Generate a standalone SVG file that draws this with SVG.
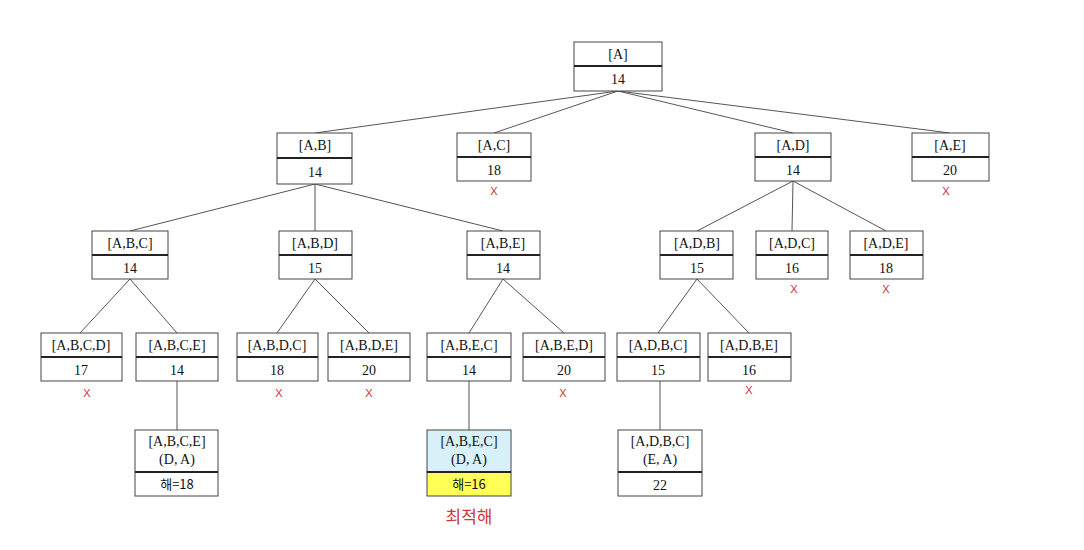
<svg xmlns="http://www.w3.org/2000/svg" width="1084" height="550" viewBox="0 0 1084 550">
<style>
.box{fill:#fff;stroke:#444;stroke-width:1}
.div{stroke:#222;stroke-width:2}
.t{font-family:"Liberation Serif","Noto Sans CJK KR",serif;font-size:14px;fill:#111;text-anchor:middle}
.k{font-family:"Noto Sans CJK KR","Liberation Serif",sans-serif;font-size:13px;fill:#111;text-anchor:middle}
.x{font-family:"Liberation Sans",sans-serif;font-size:11px;fill:#d03030;text-anchor:middle}
.e{stroke:#555;stroke-width:1;fill:none}
</style>
<rect width="1084" height="550" fill="#fff"/>
<g id="connectors">
<line class="e" x1="618" y1="91" x2="315" y2="133"/>
<line class="e" x1="618" y1="91" x2="494" y2="133"/>
<line class="e" x1="618" y1="91" x2="793" y2="133"/>
<line class="e" x1="618" y1="91" x2="950" y2="133"/>
<line class="e" x1="315" y1="184" x2="130" y2="231"/>
<line class="e" x1="315" y1="184" x2="315" y2="231"/>
<line class="e" x1="315" y1="184" x2="503" y2="231"/>
<line class="e" x1="793" y1="181" x2="697" y2="231"/>
<line class="e" x1="793" y1="181" x2="792" y2="231"/>
<line class="e" x1="793" y1="181" x2="886" y2="231"/>
<line class="e" x1="130" y1="279" x2="80" y2="333"/>
<line class="e" x1="130" y1="279" x2="177" y2="333"/>
<line class="e" x1="315" y1="279" x2="277" y2="333"/>
<line class="e" x1="315" y1="279" x2="369" y2="333"/>
<line class="e" x1="503" y1="279" x2="469" y2="333"/>
<line class="e" x1="503" y1="279" x2="564" y2="333"/>
<line class="e" x1="697" y1="279" x2="658" y2="333"/>
<line class="e" x1="697" y1="279" x2="749" y2="333"/>
<line class="e" x1="177" y1="381" x2="177" y2="430"/>
<line class="e" x1="469" y1="381" x2="469" y2="430"/>
<line class="e" x1="660" y1="381" x2="660" y2="430"/>
</g>
<g id="n-A"><rect class="box" x="574" y="42" width="88" height="49"/><line class="div" x1="574" y1="66" x2="662" y2="66"/><text class="t" x="618" y="59">[A]</text><text class="t" x="618" y="84">14</text></g>
<g id="n-AB"><rect class="box" x="277" y="133" width="75" height="51"/><line class="div" x1="277" y1="158" x2="352" y2="158"/><text class="t" x="315" y="150">[A,B]</text><text class="t" x="315" y="177">14</text></g>
<g id="n-AC"><rect class="box" x="457" y="133" width="74" height="48"/><line class="div" x1="457" y1="157" x2="531" y2="157"/><text class="t" x="494" y="150">[A,C]</text><text class="t" x="494" y="175">18</text><text class="x" x="494" y="195">X</text></g>
<g id="n-AD"><rect class="box" x="755" y="133" width="76" height="48"/><line class="div" x1="755" y1="157" x2="831" y2="157"/><text class="t" x="793" y="150">[A,D]</text><text class="t" x="793" y="175">14</text></g>
<g id="n-AE"><rect class="box" x="912" y="133" width="77" height="48"/><line class="div" x1="912" y1="157" x2="989" y2="157"/><text class="t" x="950" y="150">[A,E]</text><text class="t" x="950" y="175">20</text><text class="x" x="946" y="195">X</text></g>
<g id="n-ABC"><rect class="box" x="92" y="231" width="76" height="48"/><line class="div" x1="92" y1="255" x2="168" y2="255"/><text class="t" x="130" y="248">[A,B,C]</text><text class="t" x="130" y="273">14</text></g>
<g id="n-ABD"><rect class="box" x="279" y="231" width="73" height="48"/><line class="div" x1="279" y1="255" x2="352" y2="255"/><text class="t" x="315" y="248">[A,B,D]</text><text class="t" x="315" y="273">15</text></g>
<g id="n-ABE"><rect class="box" x="467" y="231" width="73" height="48"/><line class="div" x1="467" y1="255" x2="540" y2="255"/><text class="t" x="503" y="248">[A,B,E]</text><text class="t" x="503" y="273">14</text></g>
<g id="n-ADB"><rect class="box" x="660" y="231" width="73" height="48"/><line class="div" x1="660" y1="255" x2="733" y2="255"/><text class="t" x="697" y="248">[A,D,B]</text><text class="t" x="697" y="273">15</text></g>
<g id="n-ADC"><rect class="box" x="756" y="231" width="72" height="48"/><line class="div" x1="756" y1="255" x2="828" y2="255"/><text class="t" x="792" y="248">[A,D,C]</text><text class="t" x="792" y="273">16</text><text class="x" x="794" y="293">X</text></g>
<g id="n-ADE"><rect class="box" x="850" y="231" width="73" height="48"/><line class="div" x1="850" y1="255" x2="923" y2="255"/><text class="t" x="886" y="248">[A,D,E]</text><text class="t" x="886" y="273">18</text><text class="x" x="886" y="293">X</text></g>
<g id="n-ABCD"><rect class="box" x="41" y="333" width="81" height="48"/><line class="div" x1="41" y1="357" x2="122" y2="357"/><text class="t" x="81" y="350">[A,B,C,D]</text><text class="t" x="81" y="375">17</text><text class="x" x="87" y="397">X</text></g>
<g id="n-ABCE"><rect class="box" x="136" y="333" width="82" height="48"/><line class="div" x1="136" y1="357" x2="218" y2="357"/><text class="t" x="177" y="350">[A,B,C,E]</text><text class="t" x="177" y="375">14</text></g>
<g id="n-ABDC"><rect class="box" x="237" y="333" width="81" height="48"/><line class="div" x1="237" y1="357" x2="318" y2="357"/><text class="t" x="277" y="350">[A,B,D,C]</text><text class="t" x="277" y="375">18</text><text class="x" x="279" y="397">X</text></g>
<g id="n-ABDE"><rect class="box" x="328" y="333" width="82" height="48"/><line class="div" x1="328" y1="357" x2="410" y2="357"/><text class="t" x="369" y="350">[A,B,D,E]</text><text class="t" x="369" y="375">20</text><text class="x" x="369" y="397">X</text></g>
<g id="n-ABEC"><rect class="box" x="427" y="333" width="84" height="48"/><line class="div" x1="427" y1="357" x2="511" y2="357"/><text class="t" x="469" y="350">[A,B,E,C]</text><text class="t" x="469" y="375">14</text></g>
<g id="n-ABED"><rect class="box" x="523" y="333" width="82" height="48"/><line class="div" x1="523" y1="357" x2="605" y2="357"/><text class="t" x="564" y="350">[A,B,E,D]</text><text class="t" x="564" y="375">20</text><text class="x" x="563" y="397">X</text></g>
<g id="n-ADBC"><rect class="box" x="617" y="333" width="83" height="48"/><line class="div" x1="617" y1="357" x2="700" y2="357"/><text class="t" x="658" y="350">[A,D,B,C]</text><text class="t" x="658" y="375">15</text></g>
<g id="n-ADBE"><rect class="box" x="708" y="333" width="83" height="48"/><line class="div" x1="708" y1="357" x2="791" y2="357"/><text class="t" x="749" y="350">[A,D,B,E]</text><text class="t" x="749" y="375">16</text><text class="x" x="749" y="394">X</text></g>
<g id="n-ABCE-DA"><rect class="box" x="135" y="430" width="83" height="66"/><line class="div" x1="135" y1="472" x2="218" y2="472"/><text class="t" x="177" y="446">[A,B,C,E]</text><text class="t" x="177" y="464">(D, A)</text><text class="k" x="177" y="489">해=18</text></g>
<g id="n-ABEC-DA"><rect x="427" y="430" width="84" height="42" fill="#d8f0fa" stroke="#444"/><rect x="427" y="472" width="84" height="24" fill="#ffff55" stroke="#444"/><line class="div" x1="427" y1="472" x2="511" y2="472"/><text class="t" x="469" y="446">[A,B,E,C]</text><text class="t" x="469" y="464">(D, A)</text><text class="k" x="469" y="489">해=16</text><text x="469" y="523" font-family="Noto Sans CJK KR, sans-serif" font-size="17" fill="#d03838" text-anchor="middle">최적해</text></g>
<g id="n-ADBC-EA"><rect class="box" x="618" y="430" width="84" height="66"/><line class="div" x1="618" y1="472" x2="702" y2="472"/><text class="t" x="660" y="446">[A,D,B,C]</text><text class="t" x="660" y="464">(E, A)</text><text class="t" x="660" y="490">22</text></g>
</svg>
